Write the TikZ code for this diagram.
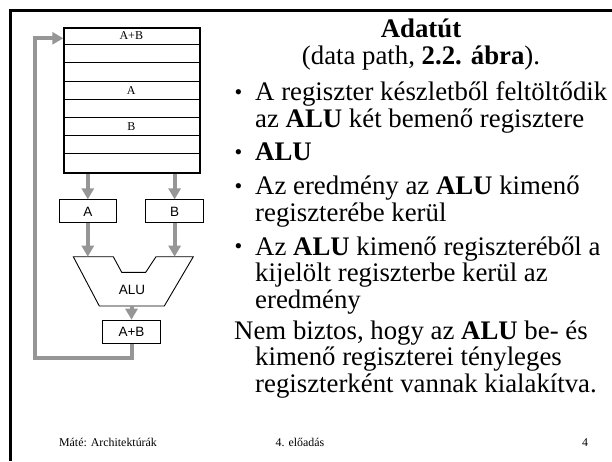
\documentclass[tikz,border=0pt]{standalone}
\usepackage{fontspec}
\setmainfont{Liberation Serif}
\newfontfamily\arialfont{Liberation Sans}
\usetikzlibrary{arrows.meta}
\definecolor{pathgray}{RGB}{150,150,150}

\begin{document}
\begin{tikzpicture}[x=1pt,y=-1pt,
  garrow/.style={draw=pathgray,line width=4pt,
    -{Triangle[length=11pt,width=12pt]}},
  regbox/.style={draw,line width=1pt,inner sep=0pt,
    minimum width=57.5pt,minimum height=23pt,
    font=\arialfont\fontsize{13.5}{15}\selectfont},
  rowlabel/.style={font=\fontsize{12}{13}\selectfont,inner sep=0pt},
  body/.style={anchor=base west,inner sep=0pt,
    font=\fontsize{26.8}{30}\selectfont},
  bul/.style={anchor=base,inner sep=0pt,
    font=\fontsize{22}{24}\selectfont},
  foot/.style={anchor=base,inner sep=0pt,
    font=\fontsize{11.9}{13}\selectfont}]
\useasboundingbox (0,0) rectangle (612,461);

% slide frame
\draw[line width=3.2pt] (612,10.7) -- (10.7,10.7) -- (10.7,461);

% register file: eight rows
\node[draw,line width=2pt,inner sep=0pt,minimum width=136pt,
  minimum height=145.6pt,anchor=north west] (regs) at (63.3,26.5) {};
\foreach \k in {1,...,7}
  \draw[line width=1.1pt] ([yshift=-18.2*\k pt]regs.north west)
    -- ([yshift=-18.2*\k pt]regs.north east);
\node[rowlabel] (rAB) at (131.3,35.6) {A+B};
\node[rowlabel] (rA) at (131.3,90.2) {A};
\node[rowlabel] (rB) at (131.3,126.6) {B};

% ALU input registers
\node[regbox] (A) at (87.8,211.4) {A};
\node[regbox] (B) at (174.6,211.4) {B};

% ALU
\coordinate (alutop) at (133,256.7);
\coordinate (alubot) at (131.8,306);
\draw[line width=0.9pt,line join=miter]
  (73.3,256.7) -- (113.3,256.7) -- (121.7,272.3) -- (145.7,272.3)
  -- (156,256.7) -- (193.3,256.7) -- (164.3,306) -- (99.3,306) -- cycle;
\node[inner sep=0pt,font=\arialfont\fontsize{13.5}{15}\selectfont]
  (alu) at (132,290) {ALU};

% ALU output register
\node[regbox] (AB) at (131.5,331.7) {A+B};

% data flow
\draw[garrow] (A.north |- regs.south) -- (A.north);
\draw[garrow] (B.north |- regs.south) -- (B.north);
\draw[garrow] (A.south) -- (A.south |- alutop);
\draw[garrow] (B.south) -- (B.south |- alutop);
\draw[garrow] (AB.north |- alubot) -- (AB.north);
\coordinate (fb) at (35.3,38.3);
\draw[garrow,line join=miter] (AB.south) -- ++(0,14.4) -| (fb)
  -- (regs.west |- fb);

% text
\node[anchor=base,inner sep=0pt,font=\fontsize{26.8}{30}\selectfont\bfseries]
  (title) at (421,37) {Adatút};
\node[anchor=base,inner sep=0pt,font=\fontsize{26.8}{30}\selectfont]
  (sub) at (421,64) {(data path, \textbf{2.2. ábra}).};

\node[bul] (b1) at (238.5,99) {\textbullet};
\node[body] (l1) at (255,100.5) {A regiszter készletből feltöltődik};
\node[body] (l2) at (255,127) {az \textbf{ALU} két bemenő regisztere};
\node[bul] (b2) at (238.5,159) {\textbullet};
\node[body] (l3) at (255,160.5) {\textbf{ALU}};
\node[bul] (b3) at (238.5,193) {\textbullet};
\node[body] (l4) at (255,194.5) {Az eredmény az \textbf{ALU} kimenő};
\node[body] (l5) at (255,221) {regiszterébe kerül};
\node[bul] (b4) at (238.5,253.5) {\textbullet};
\node[body] (l6) at (255,255) {Az \textbf{ALU} kimenő regiszteréből a};
\node[body] (l7) at (255,281.5) {kijelölt regiszterbe kerül az};
\node[body] (l8) at (255,308) {eredmény};
\node[body] (l9) at (234,339) {Nem biztos, hogy az \textbf{ALU} be- és};
\node[body] (l10) at (255,365.5) {kimenő regiszterei tényleges};
\node[body] (l11) at (255,392) {regiszterként vannak kialakítva.};

% footer
\node[foot] (f1) at (108,446) {Máté: Architektúrák};
\node[foot] (f2) at (300,446) {4. előadás};
\node[foot] (f3) at (585,446) {4};
\end{tikzpicture}
\end{document}
